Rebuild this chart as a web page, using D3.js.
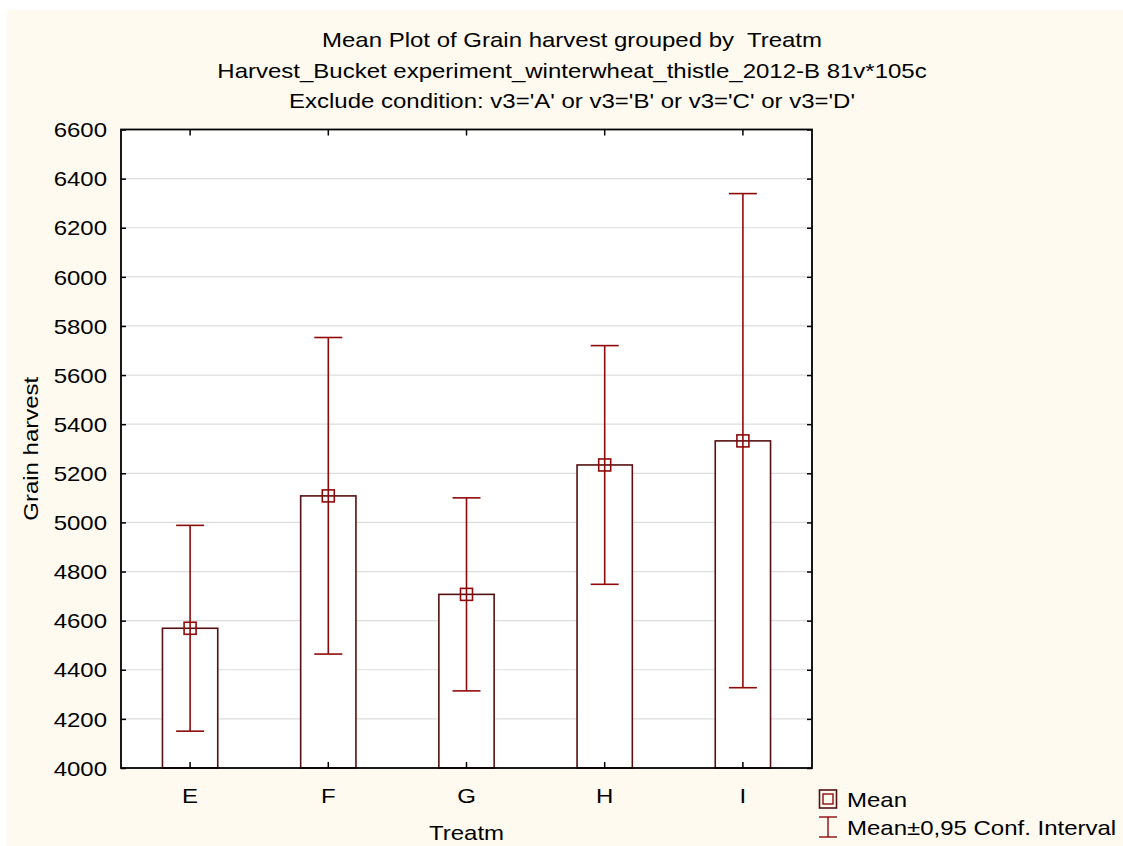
<!DOCTYPE html>
<html>
<head>
<meta charset="utf-8">
<script src="https://cdn.jsdelivr.net/npm/d3@7"></script>
<style>
  body { margin: 0; background: #ffffff; }
  text { font-family: "Liberation Sans", Arial, sans-serif; white-space: pre; }
</style>
</head>
<body>
<svg class="meanplot"></svg>
<script>
// MEAN PLOT WITH CONFIDENCE INTERVALS

let treatments = ["E", "F", "G", "H", "I"];
let means = [4569, 5108, 4707, 5234, 5332];
let ci_low = [4150, 4464, 4314, 4748, 4327];
let ci_high = [4988, 5753, 5100, 5720, 6339];
let y_ticks = [4000, 4200, 4400, 4600, 4800, 5000, 5200, 5400, 5600, 5800, 6000, 6200, 6400, 6600];
let title_lines = ["Mean Plot of Grain harvest grouped by  Treatm",
                   "Harvest_Bucket experiment_winterwheat_thistle_2012-B 81v*105c",
                   "Exclude condition: v3='A' or v3='B' or v3='C' or v3='D'"];

let w = 1123;
let h = 846;
let sx = 1.2;   // text in the original is stretched sideways
let fs = "20px";

let svg = d3.select("svg.meanplot")
    .attr("width", w)
    .attr("height", h);

// cream page background
svg.append("rect")
    .attr("x", 7).attr("y", 10)
    .attr("width", w - 7).attr("height", h - 10)
    .attr("fill", "#fefaf0");

let left = 121, right = 812, top_space = 129.5, bottom = 768;

let x = d3.scaleBand()
    .domain(treatments)
    .range([left, right]);

let y = d3.scaleLinear()
    .domain([4000, 6600])
    .range([bottom, top_space]);

let bar_color = "#551111";
let ci_color = "#8f0a0a";

// plot area
svg.append("rect")
    .attr("x", left).attr("y", top_space)
    .attr("width", right - left).attr("height", bottom - top_space)
    .attr("fill", "white");

// grid lines
svg.append("g")
    .selectAll("line")
    .data(y_ticks.slice(1, -1))
    .enter()
    .append("line")
    .attr("x1", left).attr("x2", right)
    .attr("y1", d => y(d)).attr("y2", d => y(d))
    .attr("stroke", "#dddddd")
    .attr("stroke-width", 1.2);

// bars
let bar_w = x.bandwidth() * 0.4;
svg.append("g")
    .selectAll("rect")
    .data(treatments)
    .enter()
    .append("rect")
    .attr("x", d => x(d) + x.bandwidth() / 2 - bar_w / 2)
    .attr("y", (d, i) => y(means[i]))
    .attr("width", bar_w)
    .attr("height", (d, i) => bottom - y(means[i]))
    .attr("fill", "white")
    .attr("stroke", bar_color)
    .attr("stroke-width", 1.6);

// confidence intervals
let ci = svg.append("g").attr("class", "ci");
let cap = 14;
treatments.forEach((t, i) => {
    let cx = x(t) + x.bandwidth() / 2;
    ci.append("line")
        .attr("x1", cx).attr("x2", cx)
        .attr("y1", y(ci_low[i])).attr("y2", y(ci_high[i]))
        .attr("stroke", ci_color).attr("stroke-width", 1.6);
    [ci_low[i], ci_high[i]].forEach(v => {
        ci.append("line")
            .attr("x1", cx - cap).attr("x2", cx + cap)
            .attr("y1", y(v)).attr("y2", y(v))
            .attr("stroke", ci_color).attr("stroke-width", 1.6);
    });
    ci.append("rect")
        .attr("x", cx - 6).attr("y", y(means[i]) - 6)
        .attr("width", 12).attr("height", 12)
        .attr("fill", "none")
        .attr("stroke", ci_color).attr("stroke-width", 1.6);
});

// axes, ticks pointing inward
function stretch(g) {
    g.selectAll("text")
        .attr("transform", "scale(" + sx + ",1)")
        .style("font-size", fs)
        .attr("fill", "black");
}

svg.append("g")
    .attr("transform", "translate(" + left + ",0)")
    .call(d3.axisLeft(y).tickValues(y_ticks).tickFormat(d3.format("d")).tickSizeInner(-5).tickSizeOuter(0))
    .call(g => g.select(".domain").remove())
    .call(stretch)
    .selectAll("text").attr("x", -14 / sx).attr("dy", "0.36em");

svg.append("g")
    .attr("transform", "translate(" + right + ",0)")
    .call(d3.axisRight(y).tickValues(y_ticks).tickSizeInner(-5).tickSizeOuter(0).tickFormat(""))
    .call(g => g.select(".domain").remove());

svg.append("g")
    .attr("transform", "translate(0," + bottom + ")")
    .call(d3.axisBottom(x).tickSizeInner(-6).tickSizeOuter(0))
    .call(g => g.select(".domain").remove())
    .call(stretch)
    .selectAll("text").attr("y", 35).attr("dy", "0");

svg.append("g")
    .attr("transform", "translate(0," + top_space + ")")
    .call(d3.axisTop(x).tickSizeInner(-6).tickSizeOuter(0).tickFormat(""))
    .call(g => g.select(".domain").remove());

svg.selectAll(".tick line").attr("stroke-width", 1.5);

// frame
svg.append("rect")
    .attr("x", left).attr("y", top_space)
    .attr("width", right - left).attr("height", bottom - top_space)
    .attr("fill", "none")
    .attr("stroke", "black")
    .attr("stroke-width", 1.8);

// titles
svg.append("g")
    .selectAll("text")
    .data(title_lines)
    .enter()
    .append("text")
    .attr("transform", (d, i) => "translate(572," + (47 + i * 30.5) + ") scale(" + sx + ",1)")
    .attr("text-anchor", "middle")
    .style("font-size", fs)
    .text(d => d);

// axis labels
svg.append("text")
    .attr("transform", "translate(" + (left + (right - left) / 2) + ",840) scale(" + sx + ",1)")
    .attr("text-anchor", "middle")
    .style("font-size", fs)
    .text("Treatm");

svg.append("text")
    .attr("transform", "translate(38," + ((top_space + bottom) / 2) + ") rotate(-90) scale(" + sx + ",1)")
    .attr("text-anchor", "middle")
    .style("font-size", fs)
    .text("Grain harvest");

// legend
let legend = svg.append("g").attr("transform", "translate(828,0)");
legend.append("rect")
    .attr("x", -8.5).attr("y", 790)
    .attr("width", 17).attr("height", 18)
    .attr("fill", "none").attr("stroke", bar_color).attr("stroke-width", 1.6);
legend.append("rect")
    .attr("x", -5).attr("y", 794)
    .attr("width", 10).attr("height", 10)
    .attr("fill", "none").attr("stroke", ci_color).attr("stroke-width", 1.4);
legend.append("line")
    .attr("x1", 0).attr("x2", 0).attr("y1", 817).attr("y2", 837)
    .attr("stroke", ci_color).attr("stroke-width", 1.4);
[817, 837].forEach(v => {
    legend.append("line")
        .attr("x1", -9).attr("x2", 9).attr("y1", v).attr("y2", v)
        .attr("stroke", ci_color).attr("stroke-width", 1.4);
});
legend.append("text")
    .attr("transform", "translate(19,807) scale(" + sx + ",1)")
    .style("font-size", fs)
    .text("Mean");
legend.append("text")
    .attr("transform", "translate(19,835) scale(" + sx + ",1)")
    .style("font-size", fs)
    .text("Mean±0,95 Conf. Interval");
</script>
</body>
</html>
